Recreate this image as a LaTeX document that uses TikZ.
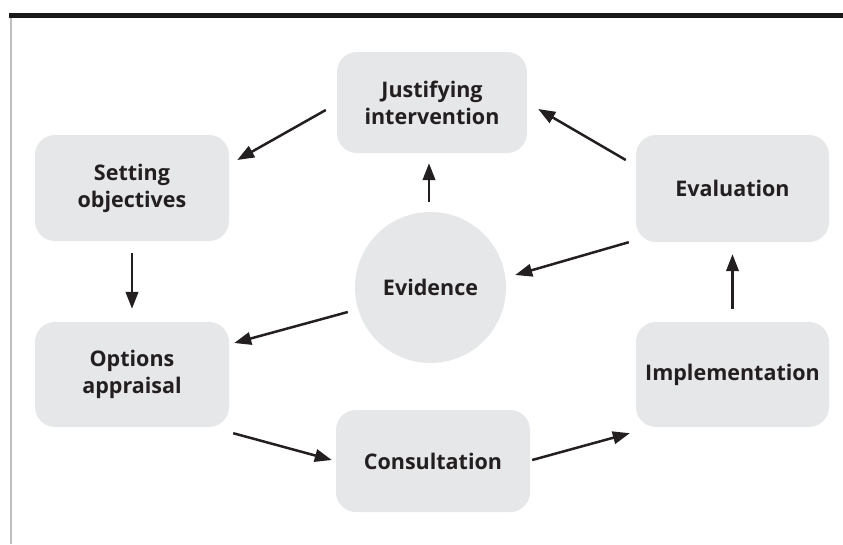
\documentclass[tikz,border=0pt]{standalone}
\usepackage{fontspec}
\setmainfont{Open Sans}
\usepackage{tikz}
\usetikzlibrary{arrows.meta,positioning,calc}

\definecolor{boxgray}{HTML}{E6E7E8}
\definecolor{inkblack}{HTML}{231F20}
\definecolor{railgray}{HTML}{BCBEC0}

\tikzset{
	stage/.style={rectangle, rounded corners=20pt, fill=boxgray, text=inkblack, align=center,
		font=\fontsize{21.5}{27}\selectfont\bfseries, inner sep=0pt},
	hub/.style={circle, fill=boxgray, text=inkblack, inner sep=0pt,
		font=\fontsize{21.5}{27}\selectfont\bfseries},
	flow/.style={-{Triangle[length=17pt,width=12.5pt]}, line width=2.5pt, color=inkblack}
}

\begin{document}
\begin{tikzpicture}[x=1pt,y=-1pt]
	%Frame%
	%===========================================================
	\useasboundingbox (0,0) rectangle (843,544);
	\fill[black!90] (9,12.5) rectangle (843,17.5); %top rule
	\fill[railgray] (10,17.5) rectangle (12,544); %left rule
	
	%Stages of the cycle%
	%===========================================================
	\node[stage, minimum width=190pt, minimum height=101pt] (just) at (432,102.5) {Justifying\\intervention};
	\node[stage, minimum width=194pt, minimum height=106pt] (set) at (132,188) {Setting\\objectives};
	\node[stage, minimum width=194pt, minimum height=105pt] (opt) at (132,374.5) {Options\\appraisal};
	\node[stage, minimum width=194pt, minimum height=102pt] (cons) at (433,461) {Consultation};
	\node[stage, minimum width=193pt, minimum height=105pt] (impl) at (732.5,374.5) {Implementation};
	\node[stage, minimum width=193pt, minimum height=107pt] (eval) at (732.5,188.5) {Evaluation};
	\node[hub, minimum size=151pt] (evid) at (430.5,287.5) {Evidence}; %centre
	
	%Arrows round the cycle%
	%===========================================================
	\draw[flow] ([xshift=-11pt,yshift=-7.5pt]just.west) -- ([xshift=8pt,yshift=28pt]set.east);
	\draw[flow] ([yshift=-12pt]set.south) -- ([yshift=13pt]opt.north);
	\draw[flow] ([xshift=4pt,yshift=-6pt]opt.south east) -- ([xshift=-4pt,yshift=1pt]cons.west);
	\draw[flow] ([xshift=2pt,yshift=1pt]cons.east) -- ([xshift=-6pt,yshift=-6pt]impl.south west);
	\draw[flow] ([yshift=13pt]impl.north) -- ([yshift=-12pt]eval.south);
	\draw[flow] ([xshift=-10pt,yshift=28.5pt]eval.west) -- ([xshift=11pt,yshift=-6.5pt]just.east);
	
	%Arrows out of the evidence%
	%===========================================================
	\draw[flow] ([xshift=-1.5pt,yshift=10pt]evid.north) -- ([xshift=-3pt,yshift=-10pt]just.south);
	\draw[flow] ([xshift=-7pt]eval.south west) -- ([xshift=9pt,yshift=12.5pt]evid.east);
	\draw[flow] ([xshift=-7pt,yshift=-24.5pt]evid.west) -- ([xshift=5pt,yshift=31.5pt]opt.east);
\end{tikzpicture}
\end{document}
